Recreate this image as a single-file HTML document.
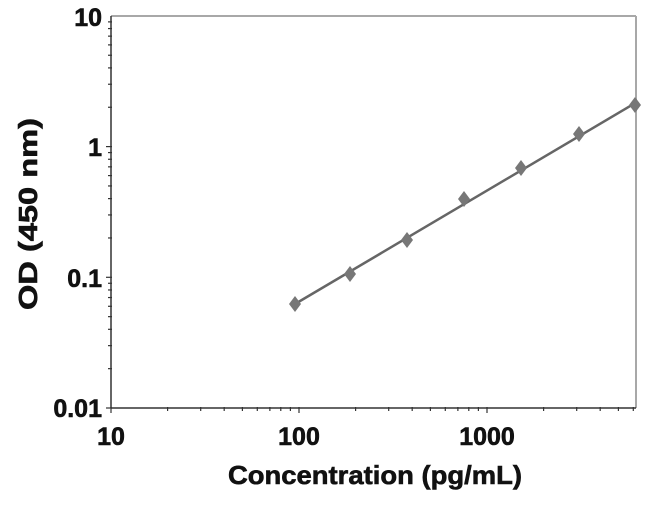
<!DOCTYPE html>
<html><head><style>body{margin:0;background:#fff}</style></head><body>
<svg width="650" height="500" xmlns="http://www.w3.org/2000/svg" font-family="Liberation Sans, Arial, sans-serif" font-weight="bold">
<rect width="650" height="500" fill="#fff"/>
<line x1="111" y1="16" x2="636" y2="16" stroke="#a8a8a8" stroke-width="2"/>
<line x1="636" y1="16" x2="636" y2="408" stroke="#a8a8a8" stroke-width="2"/>
<line x1="111" y1="16" x2="111" y2="408" stroke="#333" stroke-width="1.5"/>
<line x1="111" y1="408" x2="636" y2="408" stroke="#333" stroke-width="1.5"/>
<g stroke="#333" stroke-width="1.2" id="ticks"></g>
<g font-size="25" fill="#111" text-anchor="end" stroke="#111" stroke-width="0.6">
<text x="102" y="26">10</text><text x="102" y="156">1</text><text x="102" y="287">0.1</text><text x="102" y="417">0.01</text>
</g>
<g font-size="25" fill="#111" text-anchor="middle" stroke="#111" stroke-width="0.6">
<text x="111" y="445">10</text><text x="299" y="445">100</text><text x="487" y="445">1000</text>
</g>
<text x="228" y="484" font-size="26" textLength="294" lengthAdjust="spacingAndGlyphs" fill="#111" stroke="#111" stroke-width="0.6">Concentration (pg/mL)</text>
<text transform="translate(37,310) rotate(-90)" font-size="26" textLength="192" lengthAdjust="spacingAndGlyphs" fill="#111" stroke="#111" stroke-width="0.6">OD (450 nm)</text>
<line x1="295" y1="304" x2="637" y2="102" stroke="#666" stroke-width="2.5"/>
<g fill="#777" id="pts"></g>
</svg>
<script>
var t=document.getElementById('ticks'),s='';
for(var d=0;d<3;d++)for(var k=1;k<10;k++){var y=408-130.7*(d+Math.log10(k));var w=k==1?5:3;s+='<line x1="'+(111-w)+'" y1="'+y+'" x2="'+(111+1)+'" y2="'+y+'"/>';}
for(var d=0;d<3;d++)for(var k=1;k<10;k++){var x=111+188*(d+Math.log10(k));if(x>636)break;var w=k==1?5:3;s+='<line x1="'+x+'" y1="407" x2="'+x+'" y2="'+(408+w)+'"/>';}
t.innerHTML=s;
var p=[[295,304],[350,274],[407,240],[464,199],[521,168],[579,134],[635,105]],q='';
p.forEach(function(a){q+='<polygon points="'+a[0]+','+(a[1]-8)+' '+(a[0]+6)+','+a[1]+' '+a[0]+','+(a[1]+8)+' '+(a[0]-6)+','+a[1]+'"/>';});
document.getElementById('pts').innerHTML=q;
</script>
</body></html>
